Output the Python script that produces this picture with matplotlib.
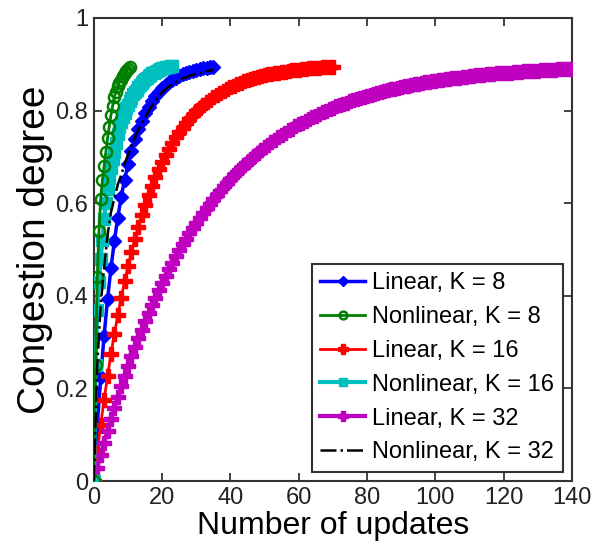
import numpy as np
import matplotlib
matplotlib.use("Agg")
import matplotlib.pyplot as plt

plt.rcParams['font.family'] = ['Liberation Sans', 'DejaVu Sans']

# Linear, K = 8
lin8_x = list(range(0, 36))
lin8_y = [0.000, 0.120, 0.224, 0.314, 0.392, 0.459, 0.518, 0.569, 0.613, 0.651,
          0.684, 0.713, 0.738, 0.760, 0.778, 0.794, 0.808, 0.821, 0.831, 0.840,
          0.848, 0.855, 0.861, 0.866, 0.871, 0.875, 0.878, 0.881, 0.884, 0.886,
          0.888, 0.889, 0.891, 0.892, 0.893, 0.894]

# Nonlinear, K = 8
nl8_x = [0, 0.5, 1, 1.5, 2, 2.5, 3, 3.5, 4, 4.5, 5, 5.5, 6, 6.5, 7, 7.5, 8,
         8.5, 9, 9.5, 10, 10.5]
nl8_y = [0.000, 0.250, 0.440, 0.540, 0.610, 0.650, 0.680, 0.710, 0.740, 0.765,
         0.790, 0.810, 0.830, 0.840, 0.852, 0.860, 0.867, 0.874, 0.880, 0.885,
         0.889, 0.893]

# Linear, K = 16
lin16_x = list(range(0, 71))
lin16_y = [0.000, 0.063, 0.121, 0.176, 0.226, 0.274, 0.317, 0.358, 0.396, 0.431,
           0.464, 0.494, 0.523, 0.549, 0.574, 0.596, 0.618, 0.637, 0.656, 0.673,
           0.689, 0.703, 0.717, 0.730, 0.742, 0.753, 0.763, 0.773, 0.782, 0.790,
           0.798, 0.805, 0.811, 0.818, 0.823, 0.829, 0.834, 0.838, 0.843, 0.847,
           0.850, 0.854, 0.857, 0.860, 0.863, 0.865, 0.868, 0.870, 0.872, 0.874,
           0.876, 0.878, 0.879, 0.881, 0.882, 0.883, 0.884, 0.886, 0.887, 0.887,
           0.888, 0.889, 0.890, 0.891, 0.891, 0.892, 0.892, 0.893, 0.893, 0.894,
           0.894]

# Nonlinear, K = 16
nl16_x = [0, 0.5, 1, 1.5, 2, 2.5, 3, 3.5, 4, 4.5, 5, 5.5, 6, 6.5, 7, 7.5, 8,
          8.5, 9, 9.5, 10, 10.5, 11, 11.5, 12, 12.5, 13, 13.5, 14, 14.5, 15,
          15.5, 16, 16.5, 17, 17.5, 18, 18.5, 19, 19.5, 20, 20.5, 21, 21.5, 22,
          22.5, 23]
nl16_y = [0.000, 0.250, 0.370, 0.430, 0.480, 0.520, 0.565, 0.600, 0.630, 0.655,
          0.675, 0.695, 0.710, 0.730, 0.750, 0.765, 0.775, 0.785, 0.795, 0.805,
          0.812, 0.820, 0.828, 0.835, 0.840, 0.845, 0.850, 0.855, 0.860, 0.864,
          0.868, 0.871, 0.874, 0.877, 0.880, 0.882, 0.884, 0.886, 0.888, 0.889,
          0.891, 0.892, 0.893, 0.894, 0.895, 0.896, 0.897]

# Linear, K = 32
lin32_x = list(range(0, 141))
lin32_y = [0.000, 0.029, 0.056, 0.083, 0.109, 0.134, 0.158, 0.182, 0.205, 0.227,
           0.248, 0.269, 0.289, 0.308, 0.327, 0.345, 0.363, 0.380, 0.396, 0.412,
           0.428, 0.443, 0.457, 0.471, 0.485, 0.498, 0.511, 0.523, 0.535, 0.547,
           0.558, 0.569, 0.579, 0.590, 0.599, 0.609, 0.618, 0.627, 0.636, 0.644,
           0.652, 0.660, 0.668, 0.675, 0.682, 0.689, 0.696, 0.702, 0.709, 0.715,
           0.721, 0.726, 0.732, 0.737, 0.742, 0.747, 0.752, 0.757, 0.761, 0.766,
           0.770, 0.774, 0.778, 0.782, 0.786, 0.789, 0.793, 0.796, 0.800, 0.803,
           0.806, 0.809, 0.812, 0.815, 0.817, 0.820, 0.822, 0.825, 0.827, 0.830,
           0.832, 0.834, 0.836, 0.838, 0.840, 0.842, 0.844, 0.846, 0.847, 0.849,
           0.851, 0.852, 0.854, 0.855, 0.857, 0.858, 0.859, 0.861, 0.862, 0.863,
           0.864, 0.865, 0.867, 0.868, 0.869, 0.870, 0.871, 0.871, 0.872, 0.873,
           0.874, 0.875, 0.876, 0.877, 0.877, 0.878, 0.879, 0.879, 0.880, 0.881,
           0.881, 0.882, 0.882, 0.883, 0.884, 0.884, 0.885, 0.885, 0.886, 0.886,
           0.886, 0.887, 0.887, 0.888, 0.888, 0.888, 0.889, 0.889, 0.889, 0.890,
           0.890]

# Nonlinear, K = 32
nl32_x = list(range(0, 36))
nl32_y = [0.000, 0.250, 0.380, 0.460, 0.530, 0.580, 0.610, 0.640, 0.660, 0.685,
          0.705, 0.725, 0.742, 0.758, 0.772, 0.785, 0.798, 0.810, 0.820, 0.830,
          0.839, 0.846, 0.852, 0.857, 0.862, 0.866, 0.869, 0.872, 0.875, 0.877,
          0.879, 0.881, 0.883, 0.885, 0.887, 0.888]

xticks = [0, 20, 40, 60, 80, 100, 120, 140]
yticks = [0, 0.2, 0.4, 0.6, 0.8, 1]
ytick_labels = ['0', '0.2', '0.4', '0.6', '0.8', '1']


fig = plt.figure(figsize=(5.94, 5.6), dpi=100)
ax = fig.add_axes([0.158, 0.141, 0.805, 0.827])

ax.plot(lin8_x, lin8_y, color='#0000ff', lw=2.5, marker='D', ms=7,
        label='Linear, K = 8', zorder=3)
ax.plot(nl8_x, nl8_y, color='#008000', lw=2, marker='o', ms=8, mfc='none',
        mew=1.8, label='Nonlinear, K = 8', zorder=5)
ax.plot(lin16_x, lin16_y, color='#ff0000', lw=2, marker='P', ms=10,
        label='Linear, K = 16', zorder=3)
ax.plot(nl16_x, nl16_y, color='#00bfbf', lw=3, marker='s', ms=8.5,
        label='Nonlinear, K = 16', zorder=4)
ax.plot(lin32_x, lin32_y, color='#bf00bf', lw=3, marker='P', ms=10.5,
        label='Linear, K = 32', zorder=3)
ax.plot(nl32_x, nl32_y, color='black', lw=1.8, ls='-.',
        label='Nonlinear, K = 32', zorder=6)

ax.set_xlim(0, 140)
ax.set_ylim(0, 1)
ax.set_xticks(xticks)
ax.set_yticks(yticks)
ax.set_yticklabels(ytick_labels)
ax.tick_params(direction='in', length=6, width=1.2, top=True, right=True,
               labelsize=17, colors='#222222', pad=4)
for s in ax.spines.values():
    s.set_linewidth(1.5)
    s.set_color('#333333')

ax.set_xlabel('Number of updates', fontsize=23, labelpad=2)
ax.set_ylabel('Congestion degree', fontsize=28, labelpad=2)

leg = ax.legend(loc='lower right', fontsize=17, frameon=True, fancybox=False,
                edgecolor='black', handlelength=1.9, handletextpad=0.3,
                labelspacing=0.5, borderpad=0.35, borderaxespad=0.4,
                markerscale=0.7)
leg.get_frame().set_linewidth(1.5)

fig.savefig('out.png', dpi=100)
